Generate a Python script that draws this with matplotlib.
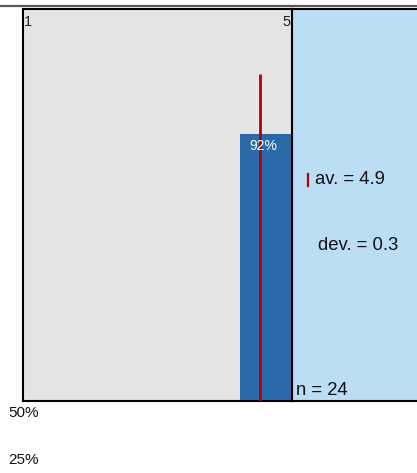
import matplotlib
matplotlib.use("Agg")
import matplotlib.pyplot as plt
from matplotlib.lines import Line2D

plt.rcParams['font.family'] = ['Liberation Sans', 'DejaVu Sans']

# Data
categories = [5]
shares = [0.92]
share_labels = ["92%"]
average = 4.9
deviation = 0.3
n_responses = 24
avg_line_top = 1.125
scale_labels = ["1", "5"]
outside_ticks = ["50%", "25%"]

W, H = 417, 473
fig = plt.figure(figsize=(W / 100, H / 100), dpi=100)

def fx(x):
    return x / W

def fy(y):
    return 1 - y / H

GRAY = "#e4e4e4"
BLUE = "#bcdef5"
BAR = "#2a6aa9"
RED = "#b30000"

# blue side panel
axb = fig.add_axes([fx(292), fy(401), fx(440) - fx(292), fy(8.8) - fy(401)])
axb.set_facecolor(BLUE)
axb.set_xticks([]); axb.set_yticks([])
for s in axb.spines.values():
    s.set_linewidth(1.5)
    s.set_color("black")

# main gray panel
ax = fig.add_axes([fx(23), fy(401), fx(292) - fx(23), fy(8.8) - fy(401)])
ax.set_facecolor(GRAY)
ax.set_xlim(0.5, 5.5)
ax.set_ylim(0, 1.349)
ax.set_xticks([]); ax.set_yticks([])
for s in ax.spines.values():
    s.set_linewidth(1.5)
    s.set_color("black")

for c, v, lab in zip(categories, shares, share_labels):
    ax.bar(c - 0.46, v, width=0.96, align="edge", color=BAR, zorder=2)
    ax.annotate(lab, (c - 0.04, v), xytext=(0, -4), textcoords="offset points",
                ha="center", va="top", color="white", fontsize=10, zorder=4)

ax.vlines(average, 0, avg_line_top, color=RED, lw=2, zorder=3)

ax.text(0.004, 0.985, scale_labels[0], transform=ax.transAxes, ha="left", va="top",
        fontsize=10.5, color="#222222")
ax.text(0.996, 0.985, scale_labels[1], transform=ax.transAxes, ha="right", va="top",
        fontsize=10.5, color="#222222")

# top gray rule
fig.add_artist(Line2D([0, 1], [fy(6), fy(6)], transform=fig.transFigure,
                      color="#5a5a5a", lw=1.6))

# legend-like texts
fig.add_artist(Line2D([fx(307.5), fx(307.5)], [fy(174), fy(186)], transform=fig.transFigure,
                      color=RED, lw=1.6))
fig.text(fx(315), fy(180), f"av. = {average}", ha="left", va="center", fontsize=13.3, color="#111111")
fig.text(fx(318), fy(245), f"dev. = {deviation}", ha="left", va="center", fontsize=13.3, color="#111111")
fig.text(fx(296.5), fy(390), f"n = {n_responses}", ha="left", va="center", fontsize=13.3, color="#111111")

fig.text(fx(8), fy(413), outside_ticks[0], ha="left", va="center", fontsize=11, color="#111111")
fig.text(fx(8), fy(460), outside_ticks[1], ha="left", va="center", fontsize=11, color="#111111")

fig.savefig("out.png", dpi=100)
